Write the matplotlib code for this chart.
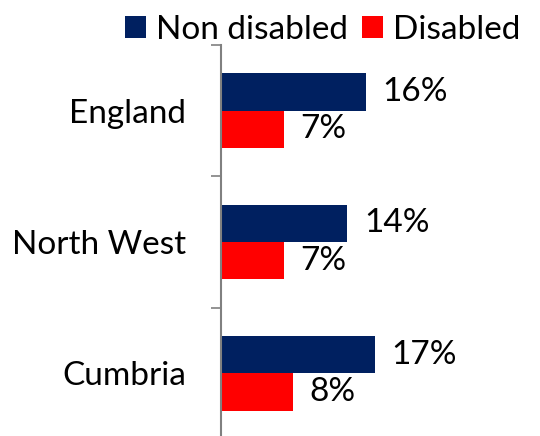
import matplotlib
matplotlib.use("Agg")
import matplotlib.pyplot as plt
import numpy as np

# data
regions = ["England", "North West", "Cumbria"]
non_disabled = [16, 14, 17]
disabled = [7, 7, 8]
series_names = ["Non disabled", "Disabled"]
colors = ["#002060", "#FF0000"]

plt.rcParams['font.family'] = ['Lato', 'DejaVu Sans']
fs = 24

W, H = 540, 436
fig = plt.figure(figsize=(W / 100, H / 100), dpi=100)
# axes placed in pixel terms: left spine at x~220, top at y~45, 131 px per category
ax_left, ax_top, ax_right = 220.5, 45, 538
ax_bottom = ax_top + 3 * 131.3
ax = fig.add_axes([ax_left / W, 1 - ax_bottom / H,
                   (ax_right - ax_left) / W, (ax_bottom - ax_top) / H])

y = np.arange(len(regions))
bh = 0.284
ax.barh(y - bh / 2, non_disabled, height=bh, color=colors[0], label=series_names[0])
ax.barh(y + bh / 2, disabled, height=bh, color=colors[1], label=series_names[1])

for yi, v in zip(y, non_disabled):
    ax.annotate(f"{v}%", (v, yi - bh / 2), xytext=(12, 0), textcoords="offset points",
                va="center", ha="left", fontsize=fs)
for yi, v in zip(y, disabled):
    ax.annotate(f"{v}%", (v, yi + bh / 2), xytext=(12, 0), textcoords="offset points",
                va="center", ha="left", fontsize=fs)

ax.set_xlim(0, (ax_right - ax_left) / 9.07)
ax.set_ylim(2.5, -0.5)
ax.set_yticks([-0.5, 0.5, 1.5, 2.5])
ax.set_yticklabels([])
ax.set_yticks(y, minor=True)
ax.set_yticklabels(regions, minor=True, fontsize=fs)
ax.tick_params(axis="y", which="major", length=7, width=1.2, color="#808080", direction="out")
ax.tick_params(axis="y", which="minor", length=0, pad=25)
ax.set_xticks([])
for s in ["top", "right", "bottom"]:
    ax.spines[s].set_visible(False)
ax.spines["left"].set_color("#808080")
ax.spines["left"].set_linewidth(1.5)

fig.legend(loc="upper right", bbox_to_anchor=(1.02, 1.035), ncol=2, frameon=False,
           fontsize=fs, handlelength=0.65, handleheight=0.65, handletextpad=0.3,
           columnspacing=0.4)

fig.savefig("out.png", dpi=100)
